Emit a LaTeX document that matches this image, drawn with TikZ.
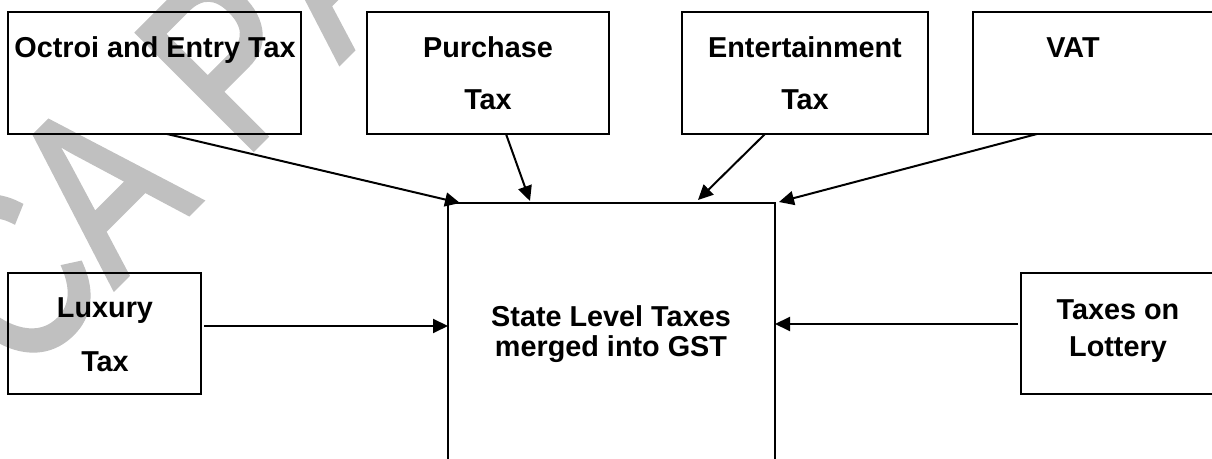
\documentclass[tikz,border=0pt]{standalone}
\usepackage{fontspec}
\setmainfont{Liberation Sans}
\newfontfamily\wmfont[FakeBold=2.5]{Liberation Sans}
\usetikzlibrary{arrows.meta,calc}
\definecolor{wmgray}{RGB}{192,192,192}
\tikzset{
  taxbox/.style={draw=black, line width=1.3pt, rectangle, inner sep=0pt, outer sep=0pt},
  label/.style={anchor=base, inner sep=0pt, outer sep=0pt, text=black,
    font=\fontsize{14.4pt}{17pt}\selectfont\bfseries},
  flow/.style={draw=black, line width=1pt, -{Triangle[length=7.5pt,width=7pt]}},
  wmark/.style={anchor=base west, inner sep=0pt, outer sep=0pt, rotate=45,
    text=wmgray, font=\wmfont\fontsize{118.5pt}{120pt}\selectfont}
}
\begin{document}
\begin{tikzpicture}[x=0.5pt,y=-0.5pt]
  % page frame (one unit = one pixel of the final image)
  \clip (0,0) rectangle (1212,459);
  \fill[white] (0,0) rectangle (1212,459);

  % background watermark
  \node[wmark] (wmC)  at (19.8,381.9) {\scalebox{0.78}[1]{C}};
  \node[wmark] (wmA)  at (113.9,287.8) {\scalebox{0.78}[1]{A}};
  \node[wmark] (wmP)  at (242.6,159.1) {\scalebox{0.78}[1]{P}};
  \node[wmark] (wmA2) at (339.4,62.2) {\scalebox{0.78}[1]{A}};

  % top row of boxes
  \node[taxbox, minimum width=146.5pt, minimum height=61pt] (oct) at (154.5,73) {};
  \node[taxbox, minimum width=121pt,   minimum height=61pt] (pur) at (488,73) {};
  \node[taxbox, minimum width=123pt,   minimum height=61pt] (ent) at (805,73) {};
  \node[taxbox, minimum width=133.5pt, minimum height=61pt] (vat) at (1106.5,73) {};

  % middle row
  \node[taxbox, minimum width=96.5pt,  minimum height=60.5pt] (lux) at (104.5,333.5) {};
  \node[taxbox, minimum width=109.5pt, minimum height=60.5pt] (lot) at (1130.5,333.5) {};
  \node[taxbox, minimum width=163.5pt, minimum height=158.5pt] (gst) at (611.5,361.5) {};

  % box texts
  \node[label] (toct)  at (155,58)  {Octroi and Entry Tax};
  \node[label] (tpur1) at (488,58)  {Purchase};
  \node[label] (tpur2) at (488,110) {Tax};
  \node[label] (tent1) at (805,58)  {Entertainment};
  \node[label] (tent2) at (805,110) {Tax};
  \node[label] (tvat)  at (1073,58) {VAT};
  \node[label] (tlux1) at (105,318) {Luxury};
  \node[label] (tlux2) at (105,372) {Tax};
  \node[label] (tlot1) at (1118,320) {Taxes on};
  \node[label] (tlot2) at (1118,357) {Lottery};
  \node[label] (tgst1) at (611,327) {State Level Taxes};
  \node[label] (tgst2) at (611,357) {merged into GST};

  % connectors into the GST box
  \draw[flow] ([xshift=6.25pt]oct.south) -- ([xshift=6pt]gst.north west);
  \draw[flow] ([xshift=9pt]pur.south) -- ([xshift=41pt,yshift=1pt]gst.north west);
  \draw[flow] ([xshift=-20pt]ent.south) -- ([xshift=125pt,yshift=1.5pt]gst.north west);
  \draw[flow] ([xshift=32pt]vat.south west) -- ([xshift=2pt,yshift=0.5pt]gst.north east);
  \coordinate (luxout) at ([xshift=1.5pt,yshift=3.75pt]lux.east);
  \coordinate (lotout) at ([xshift=-1.5pt,yshift=4.75pt]lot.west);
  \draw[flow] (luxout) -- (luxout -| gst.west);
  \draw[flow] (lotout) -- (lotout -| gst.east);
\end{tikzpicture}
\end{document}
